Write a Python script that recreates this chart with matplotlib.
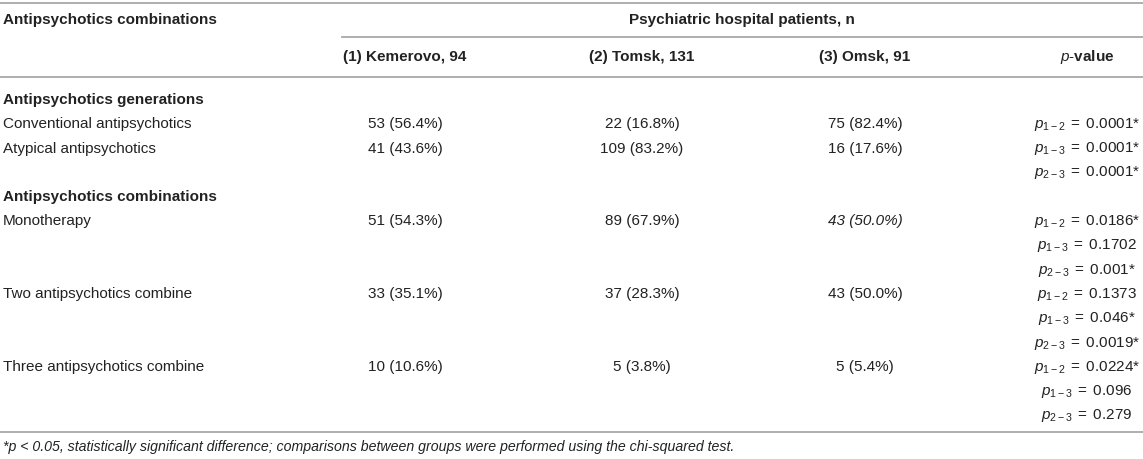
import matplotlib
matplotlib.use("Agg")
import matplotlib.pyplot as plt

plt.rcParams['font.family'] = ['Liberation Sans', 'DejaVu Sans']
plt.rcParams['mathtext.fontset'] = 'custom'
plt.rcParams['mathtext.rm'] = 'Liberation Sans'
plt.rcParams['mathtext.it'] = 'Liberation Sans:italic'
plt.rcParams['mathtext.bf'] = 'Liberation Sans:bold'

# table content
title_left = "Antipsychotics combinations"
title_group = "Psychiatric hospital patients, n"
col_heads = ["(1) Kemerovo, 94", "(2) Tomsk, 131", "(3) Omsk, 91"]

row_labels = ["Antipsychotics generations", "Conventional antipsychotics",
              "Atypical antipsychotics", "",
              "Antipsychotics combinations", "Monotherapy", "", "",
              "Two antipsychotics combine", "", "",
              "Three antipsychotics combine", "", ""]
row_bold = [True, False, False, False, True, False, False, False,
            False, False, False, False, False, False]
kemerovo = ["", "53 (56.4%)", "41 (43.6%)", "", "", "51 (54.3%)", "", "",
            "33 (35.1%)", "", "", "10 (10.6%)", "", ""]
tomsk = ["", "22 (16.8%)", "109 (83.2%)", "", "", "89 (67.9%)", "", "",
         "37 (28.3%)", "", "", "5 (3.8%)", "", ""]
omsk = ["", "75 (82.4%)", "16 (17.6%)", "", "", "43 (50.0%)", "", "",
        "43 (50.0%)", "", "", "5 (5.4%)", "", ""]
omsk_italic = [False] * 5 + [True] + [False] * 8
pairs = ["", "1-2", "1-3", "2-3", "", "1-2", "1-3", "2-3",
         "1-2", "1-3", "2-3", "1-2", "1-3", "2-3"]
pvals = ["", "0.0001*", "0.0001*", "0.0001*", "", "0.0186*", "0.1702", "0.001*",
         "0.1373", "0.046*", "0.0019*", "0.0224*", "0.096", "0.279"]
footnote = ("*p < 0.05, statistically significant difference; comparisons between "
            "groups were performed using the chi-squared test.")

W, H = 1143, 459
fig = plt.figure(figsize=(W / 100, H / 100), dpi=100)
ax = fig.add_axes([0, 0, 1, 1])
ax.set_xlim(0, W)
ax.set_ylim(H, 0)
ax.axis('off')

txt = '#222222'
line_c = '#a8a8a8'
fs = 11

# rules
ax.plot([0, W], [3, 3], color=line_c, lw=1.3)
ax.plot([342, W], [37, 37], color=line_c, lw=1.3)
ax.plot([0, W], [77, 77], color=line_c, lw=1.3)
ax.plot([0, W], [432, 432], color=line_c, lw=1.3)

col_x = [405, 642, 865]
p_x = 1087

# headers
ax.text(3, 20, title_left, ha='left', va='center', fontsize=fs, fontweight='bold', color=txt)
ax.text(742, 20, title_group, ha='center', va='center', fontsize=fs, fontweight='bold', color=txt)
for x, h in zip(col_x, col_heads):
    ax.text(x, 57, h, ha='center', va='center', fontsize=fs, fontweight='bold', color=txt)
ax.text(p_x, 57, r"$\mathit{p}$-$\mathbf{value}$", ha='center', va='center',
        fontsize=fs, color=txt)

# body
y0, dy = 100, 24.3
for i in range(len(row_labels)):
    y = y0 + i * dy
    if row_labels[i]:
        ax.text(3, y, row_labels[i], ha='left', va='center', fontsize=fs,
                fontweight='bold' if row_bold[i] else 'normal', color=txt)
    for x, vals in zip(col_x, [kemerovo, tomsk, omsk]):
        if vals[i]:
            style = 'italic' if (vals is omsk and omsk_italic[i]) else 'normal'
            ax.text(x, y, vals[i], ha='center', va='center', fontsize=fs,
                    style=style, color=txt)
    if pvals[i]:
        a, b = pairs[i].split('-')
        num = pvals[i].rstrip('*')
        star = '*' if pvals[i].endswith('*') else ''
        s = r"$p_{%s-%s}\;=\;%s$%s" % (a, b, num, star)
        ax.text(p_x, y, s, ha='center', va='center', fontsize=fs, color=txt)

ax.text(3, 447, footnote, ha='left', va='center', fontsize=10.2, style='italic', color=txt)

fig.savefig('out.png', dpi=100)
